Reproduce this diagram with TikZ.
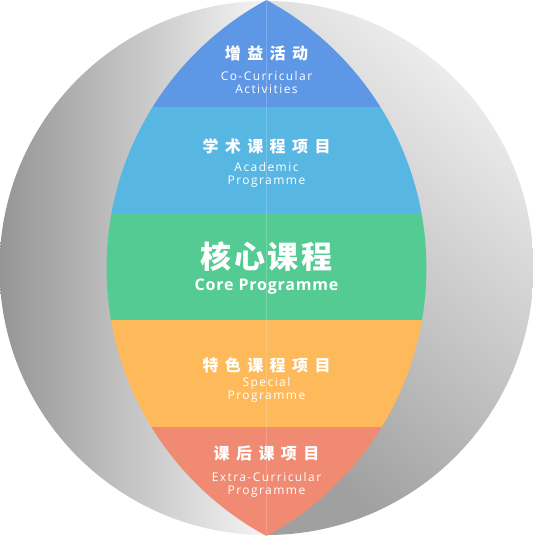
\documentclass[tikz,border=0pt]{standalone}
\usepackage{fontspec}
\setmainfont{Open Sans}
\newfontfamily\cjkfont[LetterSpace=40]{Noto Sans CJK SC}
\newfontfamily\cjkcore[LetterSpace=8]{Noto Sans CJK SC}
\newfontfamily\subfont[LetterSpace=12]{Open Sans}
\newfontfamily\corefont[LetterSpace=5]{Open Sans}
\usetikzlibrary{positioning}

\definecolor{bandblue}{HTML}{5E97E6}
\definecolor{bandsky}{HTML}{58B6E3}
\definecolor{bandgreen}{HTML}{55CB94}
\definecolor{bandorange}{HTML}{FDB95A}
\definecolor{bandred}{HTML}{F08A72}
\definecolor{sphdark}{HTML}{959595}
\definecolor{sphlight}{HTML}{F5F5F5}
\definecolor{sphright}{HTML}{F0F0F0}
\definecolor{sphshadow}{HTML}{A0A0A0}

\tikzset{
  cntitle/.style={text=white, inner sep=0pt, font=\cjkfont\fontsize{16}{16}\selectfont\bfseries},
  ensub/.style={text=white, inner sep=0pt, align=center, font=\subfont\fontsize{12}{13}\selectfont},
}

\begin{document}
\begin{tikzpicture}[x=1pt, y=-1pt]
\useasboundingbox (0,0) rectangle (533,536);
% sphere
\begin{scope}
  \clip (266.5,268) circle (267pt);
  \shade[left color=sphdark, right color=sphlight] (0,0) rectangle (266.5,536);
  \shade[left color=sphright, right color=sphshadow, shading angle=-40] (266.5,0) rectangle (533,536);
\end{scope}
% lens with the five bands
\begin{scope}
  \clip (411,268) circle (304.4pt);
  \clip (122,268) circle (304.4pt);
  \fill[bandblue] (90,0) rectangle (443,107);
  \fill[bandsky] (90,107) rectangle (443,213);
  \fill[bandgreen] (90,213) rectangle (443,320);
  \fill[bandorange] (90,320) rectangle (443,427);
  \fill[bandred] (90,427) rectangle (443,536);
  \draw[white, opacity=.2, line width=1pt] (266.5,0) -- (266.5,536);
\end{scope}

\node[cntitle] (coTitle) at (266.5,53.6) {增益活动};
\node[ensub, below=10pt of coTitle] (coSub) {Co-Curricular\\Activities};

\node[cntitle] (acTitle) at (266.5,146.5) {学术课程项目};
\node[ensub, below=7.5pt of acTitle] (acSub) {Academic\\Programme};

\node[text=white, inner sep=0pt, font=\cjkcore\fontsize{31}{31}\selectfont\bfseries] (coreTitle) at (266.5,256.5) {核心课程};
\node[text=white, inner sep=0pt, font=\corefont\fontsize{16}{16}\selectfont\bfseries, below=7pt of coreTitle] (coreSub) {Core Programme};

\node[cntitle] (spTitle) at (266.5,365) {特色课程项目};
\node[ensub, below=4pt of spTitle] (spSub) {Special\\Programme};

\node[cntitle] (exTitle) at (266.5,453) {课后课项目};
\node[ensub, below=11pt of exTitle] (exSub) {Extra-Curricular\\Programme};
\end{tikzpicture}
\end{document}
